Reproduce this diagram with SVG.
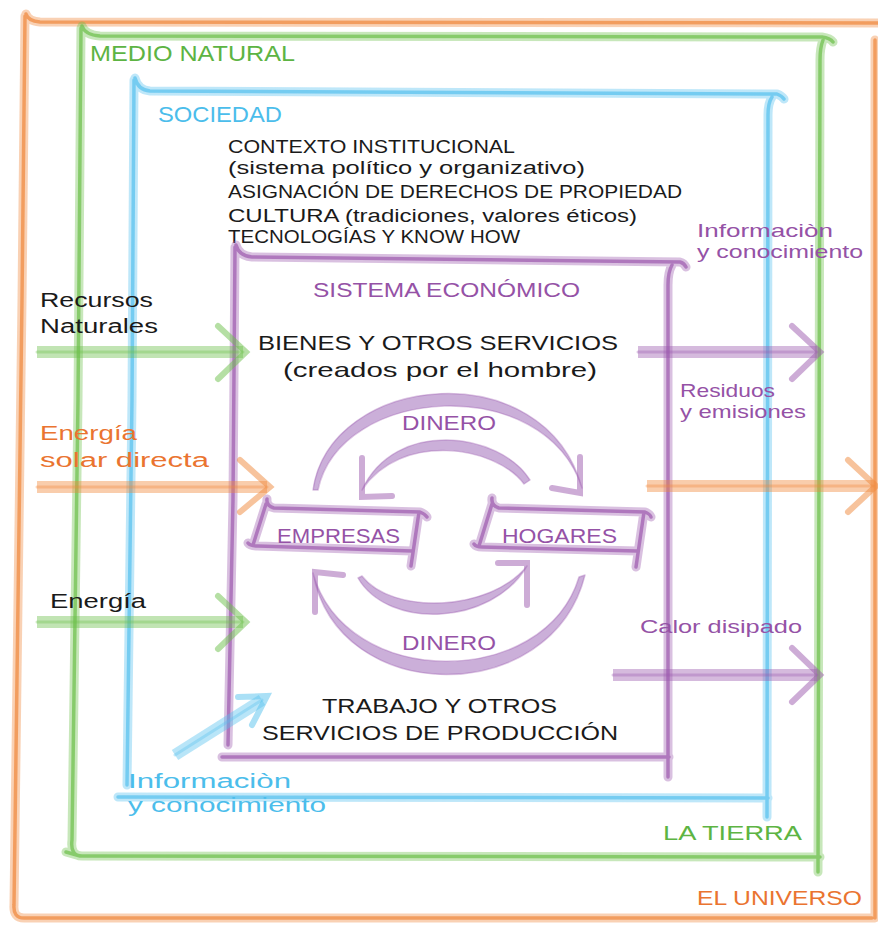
<svg xmlns="http://www.w3.org/2000/svg" width="878" height="928" viewBox="0 0 878 928">
<style>
  text { font-family: "Liberation Sans", Arial, sans-serif; }
  use, .arr path { fill: none; stroke-linecap: round; stroke-linejoin: round; }
  .wide { fill: none; stroke-width: 9; stroke-opacity: .38; }
  .core { fill: none; stroke-width: 3.5; stroke-opacity: .7; }
  .arr .shaft { stroke-width: 12; stroke-opacity: .42; stroke-linecap: butt; }
  .arr .shaftc { stroke-width: 3; stroke-opacity: .35; }
  .arr .head { stroke-width: 6; stroke-opacity: .5; stroke-linejoin: miter; }
  .arr .arc { fill: #B994CC; fill-opacity: .75; stroke: #9C5AAE; stroke-width: 1.5; stroke-opacity: .35; }
  .or { stroke: #F0873A; }
  .gr { stroke: #6CBF4A; }
  .bl { stroke: #55C1EE; }
  .pu { stroke: #9C5AAE; }
  .tor { fill: #EA7430; }
  .tgr { fill: #5DB443; }
  .tbl { fill: #4BBDEB; }
  .tpu { fill: #9552A6; }
  .tbk { fill: #1a1a1a; }
</style>
<defs>
  <path id="pUniverso" fill="none" d="M 26 14 Q 28 21 40 22 L 878 23 M 25 16 L 22 300 L 14 905 Q 13 918 24 918 L 872 918 M 875 40 L 875 918"/>
  <path id="pTierra" fill="none" d="M 82 26 Q 85 35 100 36 L 822 37 Q 830 38 833 42 M 823 40 Q 820 48 820 60 L 818 872 M 81 28 L 78 400 L 72 840 Q 70 856 82 856 L 820 857 M 66 852 L 80 856"/>
  <path id="pSociedad" fill="none" d="M 135 78 Q 138 90 150 91 L 777 94 Q 782 96 784 99 M 772 97 Q 768 103 768 115 L 767 817 M 134 80 L 132 400 L 127 785 M 118 797 L 768 798"/>
  <path id="pSistema" fill="none" d="M 236 245 Q 239 256 252 257 L 680 262 Q 684 263 686 267 M 672 265 Q 668 272 668 285 L 668 777 M 235 247 L 233 500 L 228 745 M 222 757 L 669 757"/>
  <path id="pEmp" fill="none" d="M 267 499 Q 266 506 274 508 L 420 512 Q 425 514 427 517 M 419 512 L 411 566 M 412 551 L 258 546 Q 250 546 248 543 M 253 545 L 266 504"/>
  <path id="pHog" fill="none" d="M 492 498 Q 491 506 499 508 L 645 512 Q 650 514 651 517 M 644 512 L 636 567 M 637 551 L 482 547 Q 476 547 474 544 M 479 546 L 492 504"/>
</defs>

<g id="universo">
  <use href="#pUniverso" class="or wide"/>
  <use href="#pUniverso" class="or core"/>
  <text x="697" y="905" font-size="21" textLength="165" lengthAdjust="spacingAndGlyphs" class="tor">EL UNIVERSO</text>
</g>
<g id="tierra">
  <use href="#pTierra" class="gr wide"/>
  <use href="#pTierra" class="gr core"/>
  <text x="90" y="61" font-size="22" textLength="205" lengthAdjust="spacingAndGlyphs" class="tgr">MEDIO NATURAL</text>
  <text x="663" y="840" font-size="21" textLength="139" lengthAdjust="spacingAndGlyphs" class="tgr">LA TIERRA</text>
</g>
<g id="sociedad">
  <use href="#pSociedad" class="bl wide"/>
  <use href="#pSociedad" class="bl core"/>
  <text x="158" y="122" font-size="22" textLength="124" lengthAdjust="spacingAndGlyphs" class="tbl">SOCIEDAD</text>
  <g class="tbk" font-size="18">
    <text x="228" y="153" textLength="287" lengthAdjust="spacingAndGlyphs">CONTEXTO INSTITUCIONAL</text>
    <text x="228" y="174" textLength="357" lengthAdjust="spacingAndGlyphs">(sistema político y organizativo)</text>
    <text x="228" y="198" textLength="454" lengthAdjust="spacingAndGlyphs">ASIGNACIÓN DE DERECHOS DE PROPIEDAD</text>
    <text x="228" y="222" textLength="409" lengthAdjust="spacingAndGlyphs">CULTURA (tradiciones, valores éticos)</text>
    <text x="228" y="243" textLength="292" lengthAdjust="spacingAndGlyphs">TECNOLOGÍAS Y KNOW HOW</text>
  </g>
</g>
<g id="sistema">
  <use href="#pSistema" class="pu wide"/>
  <use href="#pSistema" class="pu core"/>
  <text x="313" y="297" font-size="21" textLength="267" lengthAdjust="spacingAndGlyphs" class="tpu">SISTEMA ECONÓMICO</text>
</g>
<g id="bienes" class="tbk" font-size="21">
  <text x="258" y="350" textLength="360" lengthAdjust="spacingAndGlyphs">BIENES Y OTROS SERVICIOS</text>
  <text x="283" y="377" textLength="314" lengthAdjust="spacingAndGlyphs">(creados por el hombre)</text>
</g>
<g id="trabajo" class="tbk" font-size="21">
  <text x="322" y="713" textLength="235" lengthAdjust="spacingAndGlyphs">TRABAJO Y OTROS</text>
  <text x="262" y="740" textLength="356" lengthAdjust="spacingAndGlyphs">SERVICIOS DE PRODUCCIÓN</text>
</g>
<g id="empresas">
  <use href="#pEmp" class="pu wide"/>
  <use href="#pEmp" class="pu core"/>
  <text x="277" y="543" font-size="20" textLength="123" lengthAdjust="spacingAndGlyphs" class="tpu">EMPRESAS</text>
</g>
<g id="hogares">
  <use href="#pHog" class="pu wide"/>
  <use href="#pHog" class="pu core"/>
  <text x="502" y="543" font-size="20" textLength="115" lengthAdjust="spacingAndGlyphs" class="tpu">HOGARES</text>
</g>

<g id="connectors" class="arr">
  <path class="gr shaft" d="M 37 352 L 243 352"/>
  <path class="gr shaftc" d="M 37 352 L 243 352"/>
  <path class="gr head" d="M 218 326 L 246 352 L 218 379"/>
  <path class="or shaft" d="M 37 487 L 267 487"/>
  <path class="or shaftc" d="M 37 487 L 267 487"/>
  <path class="or head" d="M 240 460 L 270 487 L 240 512"/>
  <path class="gr shaft" d="M 37 622 L 243 622"/>
  <path class="gr shaftc" d="M 37 622 L 243 622"/>
  <path class="gr head" d="M 218 596 L 246 622 L 218 649"/>
  <path class="pu shaft" d="M 638 352 L 817 352"/>
  <path class="pu shaftc" d="M 638 352 L 817 352"/>
  <path class="pu head" d="M 792 326 L 820 352 L 792 379"/>
  <path class="or shaft" d="M 647 486 L 873 486"/>
  <path class="or shaftc" d="M 647 486 L 873 486"/>
  <path class="or head" d="M 848 460 L 876 486 L 848 512"/>
  <path class="pu shaft" d="M 613 675 L 817 675"/>
  <path class="pu shaftc" d="M 613 675 L 817 675"/>
  <path class="pu head" d="M 792 648 L 820 675 L 792 702"/>
  <path class="bl shaft" d="M 175 755 L 262 700"/>
  <path class="bl shaftc" d="M 175 755 L 262 700"/>
  <path class="bl head" d="M 238 697 L 267 696 L 252 725"/>
  <!-- circular flows -->
  <path class="arc" d="M 313 490 C 330 372, 545 352, 582 488 C 545 372, 340 385, 318 490 Z"/>
  <path class="pu head" d="M 580 457 L 580 493 L 552 488"/>
  <path class="arc" d="M 530 480 C 500 432, 395 418, 362 490 C 400 432, 495 445, 524 484 Z"/>
  <path class="pu head" d="M 362 458 L 362 497 L 392 496"/>
  <path class="arc" d="M 358 578 C 388 630, 492 626, 527 566 C 490 612, 392 615, 362 576 Z"/>
  <path class="pu head" d="M 498 563 L 527 563 L 527 605"/>
  <path class="arc" d="M 585 575 C 552 708, 338 708, 313 573 C 345 690, 545 690, 579 577 Z"/>
  <path class="pu head" d="M 315 612 L 315 572 L 343 575"/>
</g>

<g id="labels">
  <text x="40" y="307" font-size="20" textLength="113" lengthAdjust="spacingAndGlyphs" class="tbk">Recursos</text>
  <text x="40" y="333" font-size="20" textLength="118" lengthAdjust="spacingAndGlyphs" class="tbk">Naturales</text>
  <text x="40" y="440" font-size="20" textLength="97" lengthAdjust="spacingAndGlyphs" class="tor">Energía</text>
  <text x="40" y="467" font-size="20" textLength="169" lengthAdjust="spacingAndGlyphs" class="tor">solar directa</text>
  <text x="50" y="608" font-size="20" textLength="96" lengthAdjust="spacingAndGlyphs" class="tbk">Energía</text>
  <text x="697" y="237" font-size="19" textLength="136" lengthAdjust="spacingAndGlyphs" class="tpu">Informaciòn</text>
  <text x="697" y="258" font-size="19" textLength="166" lengthAdjust="spacingAndGlyphs" class="tpu">y conocimiento</text>
  <text x="680" y="397" font-size="19" textLength="95" lengthAdjust="spacingAndGlyphs" class="tpu">Residuos</text>
  <text x="680" y="418" font-size="19" textLength="126" lengthAdjust="spacingAndGlyphs" class="tpu">y emisiones</text>
  <text x="640" y="633" font-size="19" textLength="162" lengthAdjust="spacingAndGlyphs" class="tpu">Calor disipado</text>
  <text x="402" y="430" font-size="20" textLength="94" lengthAdjust="spacingAndGlyphs" class="tpu">DINERO</text>
  <text x="402" y="650" font-size="20" textLength="94" lengthAdjust="spacingAndGlyphs" class="tpu">DINERO</text>
  <text x="128" y="788" font-size="20" textLength="163" lengthAdjust="spacingAndGlyphs" class="tbl">Informaciòn</text>
  <text x="128" y="812" font-size="20" textLength="198" lengthAdjust="spacingAndGlyphs" class="tbl">y conocimiento</text>
</g>
</svg>
